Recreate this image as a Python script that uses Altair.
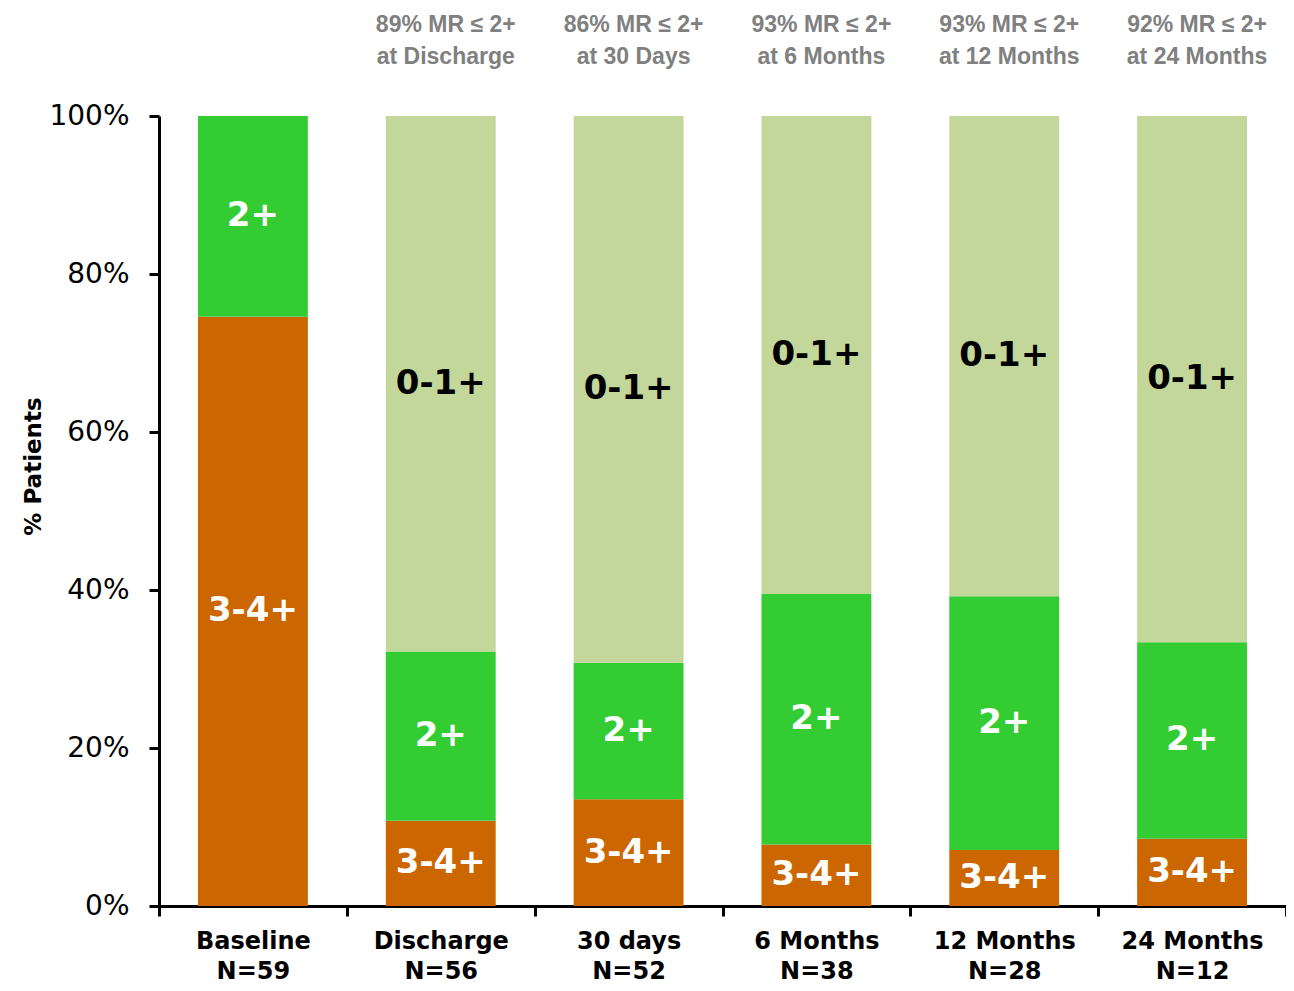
import altair as alt
import pandas as pd

categories = ["Baseline\nN=59", "Discharge\nN=56", "30 days\nN=52",
              "6 Months\nN=38", "12 Months\nN=28", "24 Months\nN=12"]
grades = ["3-4+", "2+", "0-1+"]
mr_34 = [74.6, 10.8, 13.5, 7.8, 7.1, 8.5]
mr_2 = [25.4, 21.4, 17.3, 31.7, 32.1, 24.9]
mr_01 = [0.0, 67.8, 69.2, 60.5, 60.8, 66.6]
annotations = ["", "89% MR \u2264 2+\nat Discharge", "86% MR \u2264 2+\nat 30 Days",
               "93% MR \u2264 2+\nat 6 Months", "93% MR \u2264 2+\nat 12 Months",
               "92% MR \u2264 2+\nat 24 Months"]
y_ticks = [0, 20, 40, 60, 80, 100]

colors = {"3-4+": "#CC6600", "2+": "#33CC33", "0-1+": "#C4D79B"}
text_colors = {"3-4+": "white", "2+": "white", "0-1+": "black"}

rows = []
for i, cat in enumerate(categories):
    lo = 0.0
    for g, vals in zip(grades, [mr_34, mr_2, mr_01]):
        v = vals[i]
        rows.append({"cat": cat, "grade": g, "lo": lo, "hi": lo + v,
                     "mid": lo + v / 2, "v": v})
        lo += v
df = pd.DataFrame(rows)
ann = pd.DataFrame({"cat": categories, "text": annotations})
ann = ann[ann["text"] != ""]

xenc = alt.X("cat:N", sort=categories, title=None,
             scale=alt.Scale(paddingInner=0, paddingOuter=0),
             axis=alt.Axis(labelExpr="split(datum.label, '\\n')", labelAngle=0,
                           labelFont="DejaVu Sans", labelFontWeight="bold",
                           labelFontSize=24, labelColor="black",
                           labelLineHeight=30, labelBaseline="alphabetic",
                           labelPadding=32, tickBand="extent", tickSize=10,
                           tickWidth=3, tickColor="black", domainWidth=3,
                           domainColor="black", grid=False))

bars = alt.Chart(df).mark_bar(width=alt.RelativeBandSize(0.585)).encode(
    x=xenc,
    y=alt.Y("lo:Q", scale=alt.Scale(domain=[0, 100], nice=False),
            title="% Patients",
            axis=alt.Axis(values=y_ticks, labelExpr="datum.value + '%'",
                          labelFont="DejaVu Sans", labelFontSize=28,
                          labelColor="black", labelPadding=20, tickSize=10,
                          tickWidth=3, tickColor="black", domainWidth=3,
                          domainColor="black", grid=False,
                          titleFont="DejaVu Sans", titleFontSize=23,
                          titleFontWeight="bold", titleColor="black",
                          titleX=-126, titleY=350, titleBaseline="middle")),
    y2="hi:Q",
    color=alt.Color("grade:N", scale=alt.Scale(domain=grades,
                    range=[colors[g] for g in grades]), legend=None),
)

labels = alt.Chart(df[df["v"] > 0]).mark_text(
    font="DejaVu Sans", fontWeight="bold", fontSize=34, baseline="middle",
    align="center"
).encode(
    x=alt.X("cat:N", sort=categories),
    y=alt.Y("mid:Q"),
    text="grade:N",
    color=alt.Color("grade:N", scale=alt.Scale(domain=grades,
                    range=[text_colors[g] for g in grades]), legend=None),
)

top = alt.Chart(ann).mark_text(
    font="Liberation Sans", fontSize=23, fontWeight="bold", color="#808080", dx=5,
    baseline="alphabetic", align="center", lineBreak="\n", lineHeight=32
).encode(
    x=alt.X("cat:N", sort=categories),
    y=alt.value(-84),
    text="text:N",
)

chart = alt.layer(bars, labels, top).resolve_scale(color="independent").properties(
    width=1127, height=790,
    autosize=alt.AutoSizeParams(type="none"),
    padding={"left": 151, "top": 108, "right": 0, "bottom": 77},
).configure_view(stroke=None)

chart.save("out.html", embed_options={"renderer": "svg", "actions": False})
